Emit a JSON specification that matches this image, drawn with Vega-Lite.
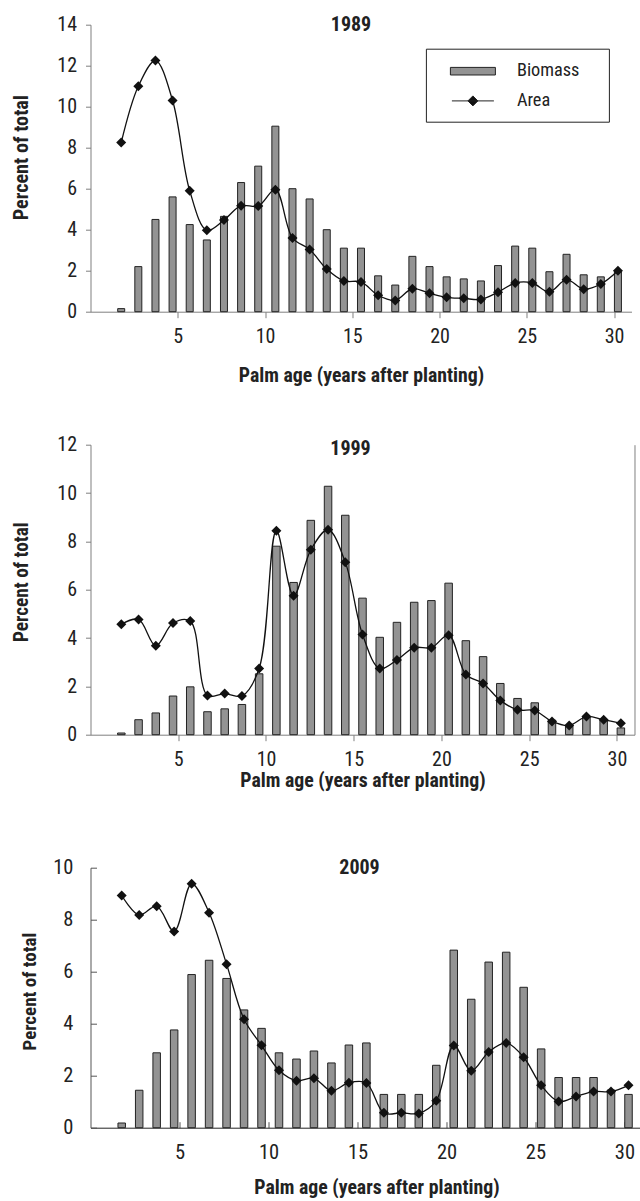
{
"$schema": "https://vega.github.io/schema/vega-lite/v6.json",
"padding": {"left": 10.5, "top": 14.7, "right": 0, "bottom": 0},
"bounds": "flush",
"spacing": 133,
"config": {
  "view": {"stroke": null},
  "font": "Roboto Condensed, Roboto, Liberation Sans, sans-serif",
  "axis": {"grid": false, "labelFont": "Roboto Condensed, Roboto, Liberation Sans, sans-serif", "titleFont": "Roboto Condensed, Roboto, Liberation Sans, sans-serif", "labelColor": "#222", "titleColor": "#222", "domainColor": "#808080", "tickColor": "#808080", "titleFontWeight": "bold", "labelFontSize": 20, "titleFontSize": 19.8},
  "title": {"font": "Roboto Condensed, Roboto, Liberation Sans, sans-serif", "fontWeight": "bold", "fontSize": 20, "color": "#222"},
  "legend": {"labelFont": "Roboto Condensed, Roboto, Liberation Sans, sans-serif"}
},
"data": {"values": [
{"year":1989,"age":1,"Biomass":0.15,"Area":8.25},{"year":1989,"age":2,"Biomass":2.2,"Area":11.0},{"year":1989,"age":3,"Biomass":4.5,"Area":12.25},{"year":1989,"age":4,"Biomass":5.6,"Area":10.3},{"year":1989,"age":5,"Biomass":4.25,"Area":5.9},{"year":1989,"age":6,"Biomass":3.5,"Area":3.97},{"year":1989,"age":7,"Biomass":4.65,"Area":4.47},{"year":1989,"age":8,"Biomass":6.3,"Area":5.17},{"year":1989,"age":9,"Biomass":7.1,"Area":5.15},{"year":1989,"age":10,"Biomass":9.05,"Area":5.95},{"year":1989,"age":11,"Biomass":6.0,"Area":3.6},{"year":1989,"age":12,"Biomass":5.5,"Area":3.04},{"year":1989,"age":13,"Biomass":4.0,"Area":2.08},{"year":1989,"age":14,"Biomass":3.1,"Area":1.5},{"year":1989,"age":15,"Biomass":3.1,"Area":1.45},{"year":1989,"age":16,"Biomass":1.75,"Area":0.8},{"year":1989,"age":17,"Biomass":1.3,"Area":0.55},{"year":1989,"age":18,"Biomass":2.7,"Area":1.12},{"year":1989,"age":19,"Biomass":2.2,"Area":0.9},{"year":1989,"age":20,"Biomass":1.7,"Area":0.7},{"year":1989,"age":21,"Biomass":1.6,"Area":0.65},{"year":1989,"age":22,"Biomass":1.5,"Area":0.6},{"year":1989,"age":23,"Biomass":2.25,"Area":0.95},{"year":1989,"age":24,"Biomass":3.2,"Area":1.4},{"year":1989,"age":25,"Biomass":3.1,"Area":1.4},{"year":1989,"age":26,"Biomass":1.95,"Area":0.97},{"year":1989,"age":27,"Biomass":2.8,"Area":1.56},{"year":1989,"age":28,"Biomass":1.8,"Area":1.1},{"year":1989,"age":29,"Biomass":1.7,"Area":1.35},{"year":1989,"age":30,"Biomass":1.95,"Area":2.0},
{"year":1999,"age":1,"Biomass":0.07,"Area":4.57},{"year":1999,"age":2,"Biomass":0.62,"Area":4.77},{"year":1999,"age":3,"Biomass":0.9,"Area":3.68},{"year":1999,"age":4,"Biomass":1.6,"Area":4.62},{"year":1999,"age":5,"Biomass":1.98,"Area":4.7},{"year":1999,"age":6,"Biomass":0.95,"Area":1.62},{"year":1999,"age":7,"Biomass":1.07,"Area":1.7},{"year":1999,"age":8,"Biomass":1.25,"Area":1.6},{"year":1999,"age":9,"Biomass":2.52,"Area":2.74},{"year":1999,"age":10,"Biomass":7.8,"Area":8.44},{"year":1999,"age":11,"Biomass":6.3,"Area":5.75},{"year":1999,"age":12,"Biomass":8.87,"Area":7.65},{"year":1999,"age":13,"Biomass":10.28,"Area":8.48},{"year":1999,"age":14,"Biomass":9.08,"Area":7.14},{"year":1999,"age":15,"Biomass":5.65,"Area":4.15},{"year":1999,"age":16,"Biomass":4.03,"Area":2.74},{"year":1999,"age":17,"Biomass":4.65,"Area":3.09},{"year":1999,"age":18,"Biomass":5.48,"Area":3.6},{"year":1999,"age":19,"Biomass":5.55,"Area":3.6},{"year":1999,"age":20,"Biomass":6.27,"Area":4.12},{"year":1999,"age":21,"Biomass":3.89,"Area":2.49},{"year":1999,"age":22,"Biomass":3.23,"Area":2.12},{"year":1999,"age":23,"Biomass":2.12,"Area":1.42},{"year":1999,"age":24,"Biomass":1.5,"Area":1.03},{"year":1999,"age":25,"Biomass":1.32,"Area":1.0},{"year":1999,"age":26,"Biomass":0.6,"Area":0.55},{"year":1999,"age":27,"Biomass":0.35,"Area":0.38},{"year":1999,"age":28,"Biomass":0.75,"Area":0.75},{"year":1999,"age":29,"Biomass":0.6,"Area":0.62},{"year":1999,"age":30,"Biomass":0.28,"Area":0.47},
{"year":2009,"age":1,"Biomass":0.18,"Area":8.93},{"year":2009,"age":2,"Biomass":1.44,"Area":8.18},{"year":2009,"age":3,"Biomass":2.88,"Area":8.52},{"year":2009,"age":4,"Biomass":3.76,"Area":7.55},{"year":2009,"age":5,"Biomass":5.89,"Area":9.38},{"year":2009,"age":6,"Biomass":6.44,"Area":8.27},{"year":2009,"age":7,"Biomass":5.74,"Area":6.29},{"year":2009,"age":8,"Biomass":4.53,"Area":4.17},{"year":2009,"age":9,"Biomass":3.82,"Area":3.17},{"year":2009,"age":10,"Biomass":2.88,"Area":2.21},{"year":2009,"age":11,"Biomass":2.64,"Area":1.81},{"year":2009,"age":12,"Biomass":2.95,"Area":1.9},{"year":2009,"age":13,"Biomass":2.49,"Area":1.42},{"year":2009,"age":14,"Biomass":3.18,"Area":1.73},{"year":2009,"age":15,"Biomass":3.26,"Area":1.72},{"year":2009,"age":16,"Biomass":1.28,"Area":0.57},{"year":2009,"age":17,"Biomass":1.28,"Area":0.57},{"year":2009,"age":18,"Biomass":1.28,"Area":0.55},{"year":2009,"age":19,"Biomass":2.4,"Area":1.04},{"year":2009,"age":20,"Biomass":6.83,"Area":3.16},{"year":2009,"age":21,"Biomass":4.94,"Area":2.19},{"year":2009,"age":22,"Biomass":6.37,"Area":2.91},{"year":2009,"age":23,"Biomass":6.75,"Area":3.26},{"year":2009,"age":24,"Biomass":5.4,"Area":2.71},{"year":2009,"age":25,"Biomass":3.03,"Area":1.63},{"year":2009,"age":26,"Biomass":1.93,"Area":1.01},{"year":2009,"age":27,"Biomass":1.93,"Area":1.2},{"year":2009,"age":28,"Biomass":1.93,"Area":1.39},{"year":2009,"age":29,"Biomass":1.45,"Area":1.39},{"year":2009,"age":30,"Biomass":1.28,"Area":1.63}
]},
"vconcat": [
{
  "width": 541, "height": 287,
  "title": {"text": "1989", "anchor": "middle", "baseline": "alphabetic", "offset": -6, "dx": -10, "dy": 30.2},
  "transform": [{"filter": "datum.year == 1989"}, {"fold": ["Biomass", "Area"], "as": ["series", "value"]}],
  "layer": [
    {"mark": {"type": "point", "opacity": 0},
     "encoding": {
       "x": {"field": "age", "type": "quantitative", "scale": {"domain": [0, 31], "nice": false, "zero": false},
             "axis": {"orient": "bottom", "values": [5, 10, 15, 20, 25, 30], "title": "Palm age (years after planting)", "tickSize": 6, "labelPadding": 9, "titleY": 70, "titleBaseline": "alphabetic"}},
       "y": {"field": "value", "type": "quantitative", "scale": {"domain": [0, 14], "nice": false},
             "axis": {"values": [0, 2, 4, 6, 8, 10, 12, 14], "title": "Percent of total", "titleFontSize": 20.2, "tickSize": 5, "labelPadding": 9, "titleX": -63, "titleY": 132.5, "titleBaseline": "alphabetic"}}
     }},
    {"layer": [
      {"transform": [{"filter": "datum.series == 'Biomass'"}],
       "mark": {"type": "bar", "width": 7, "stroke": "#222", "strokeWidth": 1},
       "encoding": {
         "x": {"field": "age", "type": "quantitative", "scale": {"domain": [-0.5, 30.5], "nice": false, "zero": false}, "axis": null},
         "y": {"field": "value", "type": "quantitative", "scale": {"domain": [0, 14], "nice": false}, "axis": null},
         "fill": {"field": "series", "type": "nominal", "scale": {"domain": ["Biomass", "Area"], "range": ["#939393", "#111111"]},
                  "legend": {"orient": "none", "legendX": 335.4, "legendY": 24, "title": null, "strokeColor": "#222", "fillColor": "#ffffff", "padding": 12, "labelFontSize": 18.3, "labelColor": "#222", "rowPadding": 10.7, "symbolOffset": 24.5, "labelOffset": 33.5,
                             "encoding": {"symbols": {"shape": {"value": {"expr": "datum.value === 'Area' ? 'M-2.1,0H2.1M0,-0.5L0.5,0L0,0.5L-0.5,0Z' : 'M12.2,0M-2.25,-0.38H2.25V0.38H-2.25Z'"}}, "size": {"value": 400}, "stroke": {"value": "#222"}, "strokeWidth": {"value": 1}, "fill": {"value": {"expr": "datum.value === 'Area' ? '#111111' : '#939393'"}}, "opacity": {"value": 1}}}}}
       }},
      {"transform": [{"filter": "datum.series == 'Area'"}],
       "mark": {"type": "line", "interpolate": "catmull-rom", "color": "#111", "strokeWidth": 1.3},
       "encoding": {
         "x": {"field": "age", "type": "quantitative", "scale": {"domain": [-0.5, 30.5], "nice": false, "zero": false}, "axis": null},
         "y": {"field": "value", "type": "quantitative", "scale": {"domain": [0, 14], "nice": false}, "axis": null}
       }},
      {"transform": [{"filter": "datum.series == 'Area'"}],
       "mark": {"type": "point", "shape": "diamond", "filled": true, "size": 100, "opacity": 1},
       "encoding": {
         "x": {"field": "age", "type": "quantitative", "scale": {"domain": [-0.5, 30.5], "nice": false, "zero": false}, "axis": null},
         "y": {"field": "value", "type": "quantitative", "scale": {"domain": [0, 14], "nice": false}, "axis": null},
         "fill": {"field": "series", "type": "nominal"}
       }}
    ]}
  ],
  "resolve": {"scale": {"x": "independent", "y": "independent"}, "axis": {"x": "independent", "y": "independent"}}
},
{
  "width": 544, "height": 290,
  "title": {"text": "1999", "anchor": "middle", "baseline": "alphabetic", "offset": -8, "dx": -12, "dy": 32.6},
  "transform": [{"filter": "datum.year == 1999"}, {"fold": ["Biomass", "Area"], "as": ["series", "value"]}],
  "layer": [
    {"mark": {"type": "point", "opacity": 0},
     "encoding": {
       "x": {"field": "age", "type": "quantitative", "scale": {"domain": [0, 31], "nice": false, "zero": false},
             "axis": {"orient": "bottom", "values": [5, 10, 15, 20, 25, 30], "title": "Palm age (years after planting)", "tickSize": 6, "labelPadding": 9, "titleY": 52, "titleBaseline": "alphabetic"}},
       "y": {"field": "value", "type": "quantitative", "scale": {"domain": [0, 12], "nice": false},
             "axis": {"values": [0, 2, 4, 6, 8, 10, 12], "title": "Percent of total", "titleFontSize": 19.3, "tickSize": 5, "labelPadding": 9, "titleX": -63, "titleY": 137, "titleBaseline": "alphabetic"}}
     }},
    {"layer": [
      {"transform": [{"filter": "datum.series == 'Biomass'"}],
       "mark": {"type": "bar", "width": 7.5, "stroke": "#222", "strokeWidth": 1},
       "encoding": {
         "x": {"field": "age", "type": "quantitative", "scale": {"domain": [-0.5, 30.5], "nice": false, "zero": false}, "axis": null},
         "y": {"field": "value", "type": "quantitative", "scale": {"domain": [0, 12], "nice": false}, "axis": {"orient": "right", "labels": false, "ticks": false, "title": null, "domainColor": "#808080"}},
         "fill": {"field": "series", "type": "nominal", "scale": {"domain": ["Biomass", "Area"], "range": ["#939393", "#111111"]},
                  "legend": {"orient": "none", "legendX": 338, "legendY": 25, "title": null, "strokeColor": "#222", "fillColor": "#ffffff", "padding": 12, "labelFontSize": 19.7, "labelColor": "#222", "rowPadding": 8.6, "symbolOffset": 25.2, "labelOffset": 33.8,
                             "encoding": {"symbols": {"shape": {"value": {"expr": "datum.value === 'Area' ? 'M-2.07,0H2.07M0,-0.5L0.5,0L0,0.5L-0.5,0Z' : 'M12.3,0M-2.28,-0.4H2.28V0.4H-2.28Z'"}}, "size": {"value": 400}, "stroke": {"value": "#222"}, "strokeWidth": {"value": 1}, "fill": {"value": {"expr": "datum.value === 'Area' ? '#111111' : '#939393'"}}, "opacity": {"value": 1}}}}}
       }},
      {"transform": [{"filter": "datum.series == 'Area'"}],
       "mark": {"type": "line", "interpolate": "catmull-rom", "color": "#111", "strokeWidth": 1.3},
       "encoding": {
         "x": {"field": "age", "type": "quantitative", "scale": {"domain": [-0.5, 30.5], "nice": false, "zero": false}, "axis": null},
         "y": {"field": "value", "type": "quantitative", "scale": {"domain": [0, 12], "nice": false}}
       }},
      {"transform": [{"filter": "datum.series == 'Area'"}],
       "mark": {"type": "point", "shape": "diamond", "filled": true, "size": 100, "opacity": 1},
       "encoding": {
         "x": {"field": "age", "type": "quantitative", "scale": {"domain": [-0.5, 30.5], "nice": false, "zero": false}, "axis": null},
         "y": {"field": "value", "type": "quantitative", "scale": {"domain": [0, 12], "nice": false}},
         "fill": {"field": "series", "type": "nominal"}
       }}
    ]}
  ],
  "resolve": {"scale": {"x": "independent", "y": "independent"}, "axis": {"x": "independent", "y": "independent"}}
},
{
  "width": 550, "height": 260,
  "title": {"text": "2009", "anchor": "middle", "baseline": "alphabetic", "offset": -6, "dx": -6, "dy": 30.7},
  "transform": [{"filter": "datum.year == 2009"}, {"fold": ["Biomass", "Area"], "as": ["series", "value"]}],
  "layer": [
    {"mark": {"type": "point", "opacity": 0},
     "encoding": {
       "x": {"field": "age", "type": "quantitative", "scale": {"domain": [0, 30.9], "nice": false, "zero": false},
             "axis": {"orient": "bottom", "values": [5, 10, 15, 20, 25, 30], "title": "Palm age (years after planting)", "tickSize": -6, "labelPadding": 21, "labelFontSize": 20.5, "domainColor": "#222", "tickColor": "#555", "titleX": 286, "titleY": 66, "titleBaseline": "alphabetic"}},
       "y": {"field": "value", "type": "quantitative", "scale": {"domain": [0, 10], "nice": false},
             "axis": {"values": [0, 2, 4, 6, 8, 10], "title": "Percent of total", "titleFontSize": 19, "tickSize": -6, "labelPadding": 23.6, "labelFontSize": 20.5, "domainColor": "#555", "tickColor": "#555", "titleX": -54.6, "titleY": 123.4, "titleBaseline": "alphabetic"}}
     }},
    {"layer": [
      {"transform": [{"filter": "datum.series == 'Biomass'"}],
       "mark": {"type": "bar", "width": 7.5, "stroke": "#222", "strokeWidth": 1},
       "encoding": {
         "x": {"field": "age", "type": "quantitative", "scale": {"domain": [-0.5, 30.4], "nice": false, "zero": false}, "axis": null},
         "y": {"field": "value", "type": "quantitative", "scale": {"domain": [0, 10], "nice": false}, "axis": null},
         "fill": {"field": "series", "type": "nominal", "scale": {"domain": ["Biomass", "Area"], "range": ["#939393", "#111111"]},
                  "legend": {"orient": "none", "legendX": 385, "legendY": -1.6, "title": null, "strokeColor": "#222", "fillColor": "#ffffff", "padding": 7, "labelFontSize": 18.3, "labelColor": "#222", "rowPadding": 11.4, "symbolOffset": 18, "labelOffset": 14,
                             "encoding": {"symbols": {"shape": {"value": {"expr": "datum.value === 'Area' ? 'M0,1.35M-2.1,0H2.1M0,-0.5L0.5,0L0,0.5L-0.5,0Z' : 'M10.3,0M-2.03,-0.5H2.03V0.5H-2.03Z'"}}, "size": {"value": 400}, "stroke": {"value": "#222"}, "strokeWidth": {"value": 1}, "fill": {"value": {"expr": "datum.value === 'Area' ? '#111111' : '#939393'"}}, "opacity": {"value": 1}}}}}
       }},
      {"transform": [{"filter": "datum.series == 'Area'"}],
       "mark": {"type": "line", "interpolate": "catmull-rom", "color": "#111", "strokeWidth": 1.3},
       "encoding": {
         "x": {"field": "age", "type": "quantitative", "scale": {"domain": [-0.5, 30.4], "nice": false, "zero": false}, "axis": null},
         "y": {"field": "value", "type": "quantitative", "scale": {"domain": [0, 10], "nice": false}, "axis": null}
       }},
      {"transform": [{"filter": "datum.series == 'Area'"}],
       "mark": {"type": "point", "shape": "diamond", "filled": true, "size": 100, "opacity": 1},
       "encoding": {
         "x": {"field": "age", "type": "quantitative", "scale": {"domain": [-0.5, 30.4], "nice": false, "zero": false}, "axis": null},
         "y": {"field": "value", "type": "quantitative", "scale": {"domain": [0, 10], "nice": false}, "axis": null},
         "fill": {"field": "series", "type": "nominal"}
       }}
    ]}
  ],
  "resolve": {"scale": {"x": "independent", "y": "independent"}, "axis": {"x": "independent", "y": "independent"}}
}
]
}
